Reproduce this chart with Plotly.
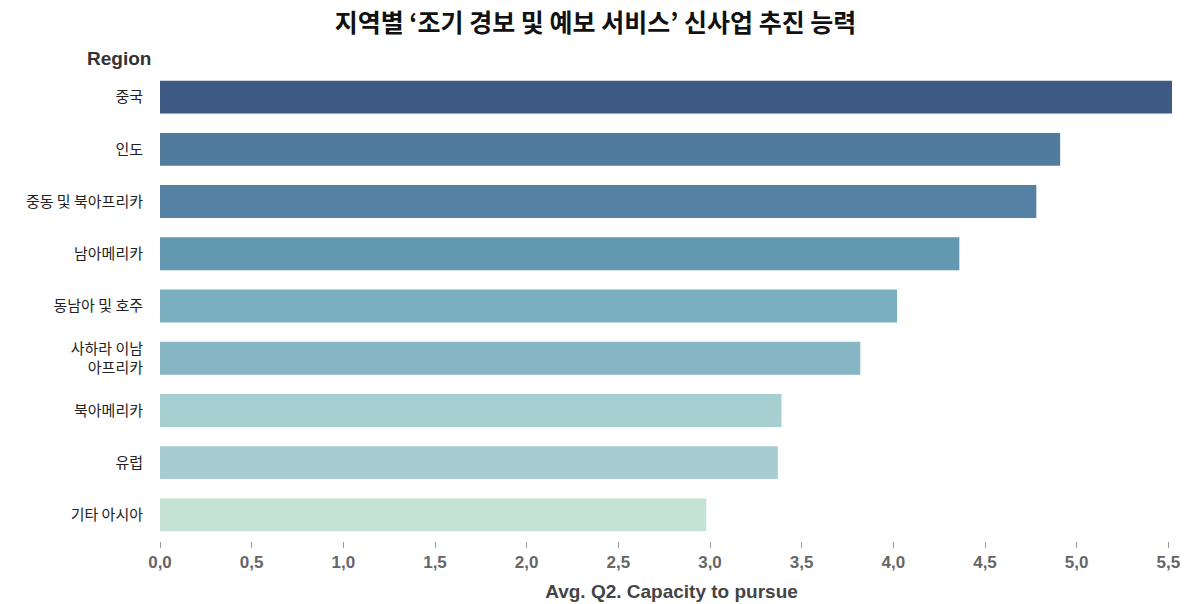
import plotly.graph_objects as go

regions = ["중국", "인도", "중동 및 북아프리카", "남아메리카", "동남아 및 호주",
           "사하라 이남<br>아프리카", "북아메리카", "유럽", "기타 아시아"]
values = [5.52, 4.91, 4.78, 4.36, 4.02, 3.82, 3.39, 3.37, 2.98]
colors = ["#3e5a84", "#517b9c", "#5582a4", "#6299b1", "#7aafc0",
          "#86b6c4", "#a6cfd1", "#a6cbd0", "#c4e2d6"]
tick_vals = [0, 0.5, 1.0, 1.5, 2.0, 2.5, 3.0, 3.5, 4.0, 4.5, 5.0, 5.5]
tick_text = ["0,0", "0,5", "1,0", "1,5", "2,0", "2,5", "3,0", "3,5", "4,0", "4,5", "5,0", "5,5"]

fig = go.Figure(go.Bar(
    x=values, y=regions, orientation="h",
    marker=dict(color=colors, line=dict(width=0)),
    hoverinfo="x+y",
))

fig.update_layout(
    width=1191, height=604,
    margin=dict(l=160, r=8, t=71, b=63),
    paper_bgcolor="white", plot_bgcolor="white",
    bargap=0.37,
    showlegend=False,
    font=dict(family="Noto Sans CJK KR, Noto Sans, sans-serif", color="#333"),
    title=dict(
        text="<b>지역별 ‘조기 경보 및 예보 서비스’ 신사업 추진 능력</b>",
        x=0.5, xanchor="center", xref="container", y=0.962, yanchor="middle",
        font=dict(size=25, color="#111", family="Noto Sans CJK KR, sans-serif"),
    ),
    xaxis=dict(
        range=[0, 5.58], automargin=False,
        tickvals=tick_vals, ticktext=tick_text,
        showgrid=False, zeroline=False, showline=False,
        ticks="outside", ticklen=6, tickwidth=1, tickcolor="#999",
        tickfont=dict(size=17, color="#666", family="Liberation Sans, Arial, sans-serif", weight="bold"),
        title=dict(text="<b>Avg. Q2. Capacity to pursue</b>", standoff=13,
                   font=dict(size=19, color="#444", family="Liberation Sans, Arial, sans-serif")),
        fixedrange=True,
    ),
    yaxis=dict(
        autorange="reversed", automargin=False,
        showgrid=False, zeroline=False, showline=False,
        ticks="", ticklabelstandoff=16,
        tickfont=dict(size=15, color="#222", family="Noto Sans CJK KR, sans-serif"),
        fixedrange=True,
    ),
    annotations=[dict(
        text="<b>Region</b>", xref="paper", yref="paper", x=-0.007, y=1.0,
        xanchor="right", yanchor="bottom", showarrow=False,
        font=dict(size=19, color="#333", family="Liberation Sans, Arial, sans-serif"),
    )],
)

fig.write_html("out.html")
